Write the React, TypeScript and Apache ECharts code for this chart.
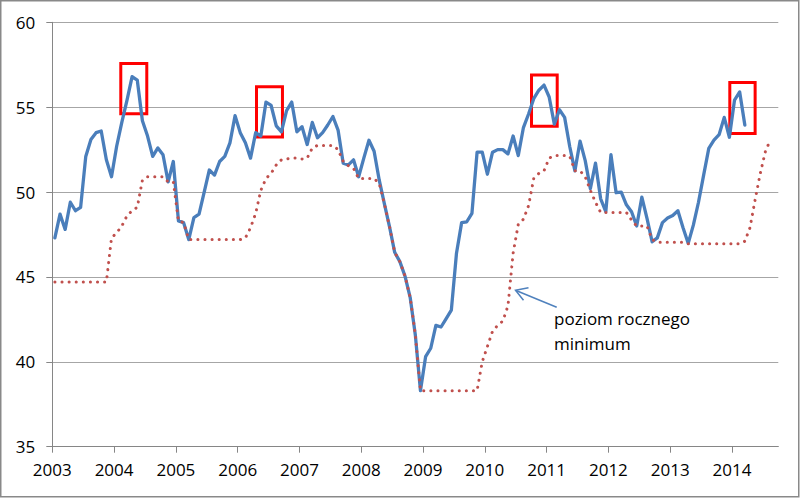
import React, { useEffect, useRef } from "react";
import * as echarts from "echarts";

// Tick labels of the time axis (one per January)
const YEAR_LABELS = ["2003", "2004", "2005", "2006", "2007", "2008", "2009", "2010", "2011", "2012", "2013", "2014"];
// Number of monthly slots on the time axis (Jan 2003 .. Sep 2014)
const MONTH_SLOTS = 141;

// Monthly index (blue line), Jan 2003 .. Mar 2014
const INDEX_VALUES = [
  47.3, 48.7, 47.8, 49.4, 48.9, 49.1, 52.1, 53.1, 53.5, 53.6, 51.9, 50.9,
  52.7, 54.1, 55.4, 56.8, 56.6, 54.2, 53.3, 52.1, 52.6, 52.2, 50.6, 51.8,
  48.3, 48.2, 47.2, 48.5, 48.7, 50.0, 51.3, 51.0, 51.8, 52.1, 52.9, 54.5,
  53.5, 52.9, 52.0, 53.5, 53.3, 55.3, 55.1, 53.9, 53.55, 54.8, 55.3, 53.55,
  53.85, 52.8, 54.1, 53.2, 53.5, 53.95, 54.45, 53.65, 51.7, 51.6, 51.9, 50.9,
  52.0, 53.05, 52.4, 50.7, 49.3, 47.95, 46.45, 45.9, 45.05, 43.8, 41.6, 38.3,
  40.3, 40.8, 42.15, 42.05, 42.55, 43.05, 46.4, 48.2, 48.25, 48.75, 52.35, 52.35,
  51.05, 52.35, 52.5, 52.5, 52.25, 53.3, 52.15, 53.8, 54.6, 55.5, 56.0, 56.3,
  55.6, 54.0, 54.85, 54.4, 52.67, 51.25, 53.0, 51.85, 50.2, 51.7, 49.6, 48.85,
  52.2, 49.96, 50.0, 49.25, 48.84, 48.0, 49.7, 48.45, 47.07, 47.3, 48.2, 48.47,
  48.62, 48.9, 47.9, 46.98, 48.05, 49.4, 51.0, 52.57, 53.06, 53.38, 54.4, 53.23,
  55.42, 55.9, 53.95,
];

// Level of the annual minimum (red dotted line), Jan 2003 .. Aug 2014
const ANNUAL_MIN = [
  44.7, 44.7, 44.7, 44.7, 44.7, 44.7, 44.7, 44.7, 44.7, 44.7, 44.7, 47.3,
  47.6, 48.0, 48.6, 48.9, 49.1, 50.7, 50.9, 50.9, 50.9, 50.9, 50.6, 50.6,
  48.3, 48.2, 47.2, 47.2, 47.2, 47.2, 47.2, 47.2, 47.2, 47.2, 47.2, 47.2,
  47.2, 47.3, 47.9, 48.75, 50.1, 50.8, 51.1, 51.6, 51.9, 51.95, 52.0, 52.0,
  51.95, 52.0, 52.6, 52.75, 52.75, 52.75, 52.75, 52.5, 51.8, 51.55, 51.4, 50.8,
  50.8, 50.8, 50.8, 50.5, 49.3, 47.95, 46.45, 45.9, 45.05, 43.8, 41.6, 38.3,
  38.3, 38.3, 38.3, 38.3, 38.3, 38.3, 38.3, 38.3, 38.3, 38.3, 38.3, 40.0,
  40.9, 41.8, 42.15, 42.4, 43.3, 46.4, 48.1, 48.4, 49.2, 50.8, 51.1, 51.25,
  52.0, 52.15, 52.15, 52.15, 52.1, 51.25, 51.25, 50.9, 50.1, 49.4, 48.8, 48.8,
  48.8, 48.8, 48.8, 48.8, 48.35, 48.0, 48.0, 48.0, 47.2, 47.05, 47.05, 47.05,
  47.05, 47.05, 47.05, 46.95, 46.95, 46.95, 46.95, 46.95, 46.95, 46.95, 46.95, 46.95,
  46.95, 46.95, 47.1, 47.9, 49.55, 51.1, 52.4, 53.1,
];

// Highlighted peaks: [monthFrom, valueTop, monthTo, valueBottom]
const PEAK_BOXES = [
  [13.3, 57.58, 18.35, 54.62],
  [39.66, 56.21, 44.7, 53.25],
  [93.07, 56.9, 98.06, 53.87],
  [131.58, 56.45, 136.5, 53.45],
];

const ANNOTATION = "poziom rocznego\nminimum";

const FONT = "'Open Sans', sans-serif";

export default function App() {
  const ref = useRef<HTMLDivElement>(null);

  useEffect(() => {
    document.body.style.margin = "0";
    if (!ref.current) return;
    const chart = echarts.init(ref.current, null, { renderer: "svg" });

    const tickValues = YEAR_LABELS.map((_, k) => k * 12);
    const blueData = INDEX_VALUES.map((v, i) => [i + 0.5, v]);
    const redData = ANNUAL_MIN.map((v, i) => [i + 0.5, v]);

    chart.setOption({
      animation: false,
      backgroundColor: "#ffffff",
      grid: { left: 52.3, right: 21.7, top: 22.3, bottom: 51.3, containLabel: false },
      xAxis: {
        type: "value",
        min: 0,
        max: MONTH_SLOTS,
        axisLine: { show: true, lineStyle: { color: "#868686", width: 1 } },
        axisTick: { show: true, length: 6, inside: false, customValues: tickValues, lineStyle: { color: "#868686" } },
        axisLabel: {
          customValues: tickValues,
          formatter: (v: number) => YEAR_LABELS[Math.round(v / 12)] ?? "",
          color: "#000000",
          fontFamily: FONT,
          fontSize: 17,
          margin: 14,
        },
        splitLine: { show: false },
      },
      yAxis: {
        type: "value",
        min: 35,
        max: 60,
        interval: 5,
        axisLine: { show: true, lineStyle: { color: "#868686", width: 1 } },
        axisTick: { show: true, length: 6, inside: false, lineStyle: { color: "#868686" } },
        axisLabel: { color: "#000000", fontFamily: FONT, fontSize: 17, margin: 17 },
        splitLine: { show: true, lineStyle: { color: "#A6A6A6", width: 1 } },
      },
      series: [
        {
          type: "line",
          data: blueData,
          symbol: "none",
          lineStyle: { color: "#4A7EBB", width: 3.3, join: "round", cap: "round" },
          markArea: {
            silent: true,
            itemStyle: { color: "rgba(0,0,0,0)", borderColor: "#FF0000", borderWidth: 3 },
            data: PEAK_BOXES.map((b) => [{ coord: [b[0], b[1]] }, { coord: [b[2], b[3]] }]),
          },
          z: 2,
        },
        {
          type: "line",
          data: redData,
          symbol: "none",
          lineStyle: { color: "#C0504D", width: 3, type: [0.1, 7], cap: "round", join: "round" },
          z: 3,
        },
      ],
      graphic: [
        {
          type: "rect",
          shape: { x: 0.75, y: 0.75, width: 798, height: 496 },
          style: { fill: "none", stroke: "#898989", lineWidth: 1.5 },
          silent: true,
        },
        {
          type: "line",
          shape: { x1: 556.7, y1: 307.3, x2: 516, y2: 290.5 },
          style: { stroke: "#4F81BD", lineWidth: 1.5 },
        },
        {
          type: "polyline",
          shape: { points: [[528.5, 287.8], [515.5, 290.3], [523.5, 300.3]] },
          style: { stroke: "#4F81BD", lineWidth: 1.5, fill: "none" },
        },
        {
          type: "text",
          x: 554,
          y: 306,
          style: {
            text: ANNOTATION,
            fontFamily: FONT,
            fontSize: 17,
            lineHeight: 25,
            fill: "#000000",
          },
        },
      ],
    });

    return () => chart.dispose();
  }, []);

  return <div ref={ref} style={{ width: 800, height: 498 }} />;
}
